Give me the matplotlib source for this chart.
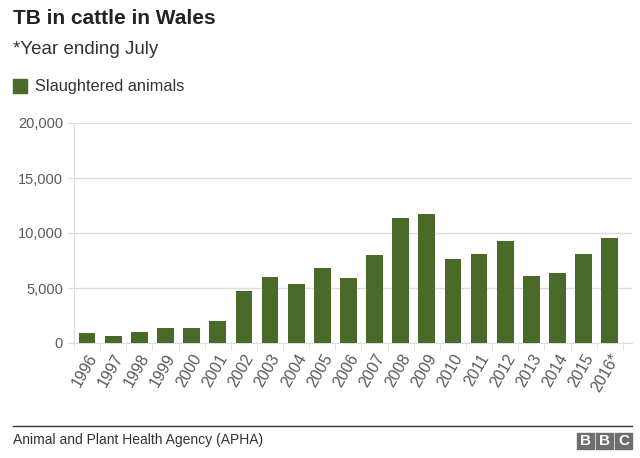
import matplotlib
matplotlib.use('Agg')
import matplotlib.pyplot as plt
from matplotlib.patches import Rectangle
from matplotlib.lines import Line2D

plt.rcParams['font.family'] = ['Liberation Sans', 'DejaVu Sans']

years = ['1996', '1997', '1998', '1999', '2000', '2001', '2002', '2003', '2004',
         '2005', '2006', '2007', '2008', '2009', '2010', '2011', '2012', '2013',
         '2014', '2015', '2016*']
slaughtered = [950, 610, 1040, 1400, 1370, 1980, 4740, 5960, 5380, 6780, 5900,
               7970, 11400, 11700, 7600, 8060, 9270, 6110, 6380, 8090, 9520]
yticks = [0, 5000, 10000, 15000, 20000]

GREEN = '#4a6a2a'
GRID = '#dddddd'
TXT = '#5a5a5a'

fig = plt.figure(figsize=(6.4, 4.58), dpi=100)
ax = fig.add_axes([74 / 640, 1 - 343 / 458, (632 - 74) / 640, (343 - 123) / 458])

x = list(range(len(years)))
ax.bar(x, slaughtered, width=0.64, color=GREEN, zorder=3)

ax.set_ylim(0, 20000)
ax.set_xlim(-0.49, 20.85)
ax.set_yticks(yticks)
ax.set_yticklabels([f'{v:,}' for v in yticks], fontsize=10.5, color=TXT)
ax.yaxis.grid(True, color=GRID, linewidth=1, zorder=0)
ax.tick_params(axis='y', length=4, color=GRID, pad=4)

# category boundary ticks on x
ax.set_xticks([i - 0.5 for i in x] + [len(x) - 0.5], minor=True)
ax.set_xticks(x)
ax.set_xticklabels(years, rotation=60, ha='right', va='top',
                   rotation_mode='anchor', fontsize=11.5, color=TXT)
ax.tick_params(axis='x', which='major', length=0, pad=6)
ax.tick_params(axis='x', which='minor', length=5, color=GRID)

for s in ['top', 'right']:
    ax.spines[s].set_visible(False)
ax.spines['left'].set_color(GRID)
ax.spines['bottom'].set_color(GRID)

# header
fig.text(13 / 640, 1 - 18 / 458, 'TB in cattle in Wales', fontsize=15,
         fontweight='bold', color='#222222', va='center', ha='left')
fig.text(13 / 640, 1 - 50 / 458, '*Year ending July', fontsize=13.5,
         color='#333333', va='center', ha='left')
fig.patches.append(Rectangle((13 / 640, 1 - 93 / 458), 14 / 640, 14 / 458,
                             transform=fig.transFigure, color=GREEN))
fig.text(35 / 640, 1 - 86 / 458, 'Slaughtered animals', fontsize=11.8,
         color='#333333', va='center', ha='left')

# footer
fig.lines.append(Line2D([13 / 640, 632 / 640], [1 - 426 / 458, 1 - 426 / 458],
                        transform=fig.transFigure, color='#333333', linewidth=1))
fig.text(13 / 640, 1 - 440 / 458, 'Animal and Plant Health Agency (APHA)',
         fontsize=10, color='#333333', va='center', ha='left')
for i, letter in enumerate('BBC'):
    x0 = 577 + i * 19
    fig.patches.append(Rectangle((x0 / 640, 1 - 449 / 458), 17 / 640, 16 / 458,
                                 transform=fig.transFigure, color='#6e6e6e'))
    fig.text((x0 + 8.5) / 640, 1 - 441 / 458, letter, fontsize=11,
             fontweight='bold', color='white', ha='center', va='center')

fig.savefig('out.png', dpi=100, facecolor='white')
